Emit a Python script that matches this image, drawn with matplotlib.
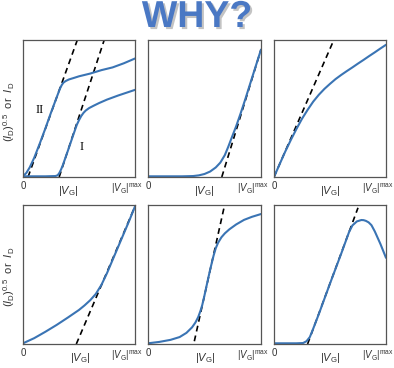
import matplotlib as mpl

mpl.use('Agg')

import matplotlib.pyplot as plt
import matplotlib.patheffects as pe

plt.rcParams['font.family'] = ['Liberation Sans', 'DejaVu Sans']
plt.rcParams['mathtext.fontset'] = 'custom'
plt.rcParams['mathtext.rm'] = 'Liberation Sans'
plt.rcParams['mathtext.it'] = 'Liberation Sans:italic'

# data (x = |VG|/|VG|max, y = normalised current)
# top row
p1_x_II = [0.00, 0.03, 0.06, 0.10, 0.15, 0.20, 0.25, 0.30, 0.33, 0.345, 0.36, 0.38, 0.41, 0.45, 0.50, 0.60, 0.70, 0.80, 0.90, 1.00]
p1_y_II = [0.005, 0.03, 0.07, 0.14, 0.245, 0.355, 0.47, 0.58, 0.645, 0.67, 0.688, 0.70, 0.712, 0.722, 0.735, 0.755, 0.78, 0.80, 0.83, 0.865]
p1_x_I = [0.00, 0.20, 0.29, 0.31, 0.325, 0.34, 0.355, 0.37, 0.40, 0.45, 0.48, 0.50, 0.52, 0.54, 0.56, 0.59, 0.63, 0.68, 0.75, 0.85, 1.00]
p1_y_I = [0.005, 0.005, 0.007, 0.013, 0.03, 0.055, 0.085, 0.12, 0.19, 0.31, 0.38, 0.415, 0.445, 0.468, 0.485, 0.503, 0.52, 0.54, 0.565, 0.595, 0.636]
p1_fit_II = [(0.045, 0.0), (0.485, 1.0)]
p1_fit_I = [(0.323, 0.0), (0.725, 1.0)]

p2_x = [0.00, 0.30, 0.40, 0.45, 0.50, 0.55, 0.60, 0.64, 0.68, 0.71, 0.74, 0.78, 0.82, 0.86, 0.90, 0.95, 1.00]
p2_y = [0.005, 0.005, 0.007, 0.012, 0.022, 0.04, 0.07, 0.105, 0.16, 0.22, 0.285, 0.37, 0.465, 0.565, 0.67, 0.80, 0.93]
p2_fit = [(0.653, 0.0), (1.0, 0.93)]

p3_x = [0.00, 0.05, 0.10, 0.15, 0.20, 0.25, 0.30, 0.35, 0.40, 0.45, 0.50, 0.55, 0.60, 0.65, 0.70, 0.75, 0.80, 0.85, 0.90, 0.95, 1.00]
p3_y = [0.00, 0.093, 0.185, 0.27, 0.35, 0.425, 0.49, 0.55, 0.60, 0.643, 0.68, 0.715, 0.745, 0.773, 0.80, 0.828, 0.855, 0.883, 0.91, 0.938, 0.965]
p3_fit = [(0.0, 0.0), (0.534, 1.0)]

# bottom row
p4_x = [0.00, 0.10, 0.20, 0.30, 0.40, 0.50, 0.55, 0.60, 0.65, 0.70, 0.75, 0.80, 0.85, 0.90, 0.95, 1.00]
p4_y = [0.005, 0.042, 0.088, 0.137, 0.19, 0.245, 0.278, 0.315, 0.36, 0.425, 0.51, 0.605, 0.70, 0.795, 0.89, 0.99]
p4_fit = [(0.476, 0.0), (1.0, 0.99)]

p5_x = [0.00, 0.10, 0.20, 0.28, 0.34, 0.39, 0.42, 0.445, 0.465, 0.48, 0.50, 0.52, 0.55, 0.58, 0.60, 0.62, 0.65, 0.68, 0.72, 0.78, 0.85, 0.92, 1.00]
p5_y = [0.005, 0.015, 0.03, 0.05, 0.08, 0.12, 0.155, 0.195, 0.24, 0.28, 0.35, 0.425, 0.535, 0.635, 0.69, 0.728, 0.768, 0.796, 0.825, 0.86, 0.893, 0.915, 0.935]
p5_fit = [(0.41, 0.02), (0.678, 1.0)]

p6_x = [0.00, 0.20, 0.26, 0.29, 0.32, 0.35, 0.40, 0.50, 0.60, 0.67, 0.70, 0.74, 0.78, 0.80, 0.82, 0.845, 0.87, 0.90, 0.95, 1.00]
p6_y = [0.005, 0.005, 0.007, 0.02, 0.05, 0.11, 0.215, 0.435, 0.65, 0.805, 0.853, 0.882, 0.892, 0.891, 0.886, 0.875, 0.855, 0.81, 0.72, 0.62]
p6_fit = [(0.30, 0.0), (0.75, 0.98)]

# where the middle |VG| label sits in each panel
mid_label = [0.40, 0.50, 0.50, 0.515, 0.51, 0.50]

blue = '#3a74b4'
W, H = 394, 368

fig = plt.figure(figsize=(3.94, 3.68), dpi=100)

lefts = [23, 148, 274]
widths = [112, 113, 112]
rows = [(40, 177), (205, 344)]

axes = []
for top, bot in rows:
    for l, w in zip(lefts, widths):
        ax = fig.add_axes([l / W, 1 - bot / H, w / W, (bot - top) / H])
        axes.append(ax)

panels = [
    [(p1_x_II, p1_y_II), (p1_x_I, p1_y_I)],
    [(p2_x, p2_y)],
    [(p3_x, p3_y)],
    [(p4_x, p4_y)],
    [(p5_x, p5_y)],
    [(p6_x, p6_y)],
]
fits = [[p1_fit_II, p1_fit_I], [p2_fit], [p3_fit], [p4_fit], [p5_fit], [p6_fit]]

for i, ax in enumerate(axes):
    for f in fits[i]:
        (x0, y0), (x1, y1) = f
        ax.plot([x0, x1], [y0, y1], color='black', lw=1.2, ls=(0, (3.5, 2.5)))
    for xs, ys in panels[i]:
        ax.plot(xs, ys, color=blue, lw=1.5, solid_capstyle='round', solid_joinstyle='round')
    ax.set_xlim(0, 1)
    ax.set_ylim(0, 1)
    ax.set_yticks([])
    ax.set_xticks([0, 0.93])
    ax.set_xticklabels(['0', r'$|V_{\rm G}|^{\rm max}$'], fontsize=7, color='#333333')
    ax.tick_params(axis='x', length=0, pad=3)
    for s in ax.spines.values():
        s.set_color('#555555')
        s.set_linewidth(0.9)
    ax.text(mid_label[i], -0.1, r'$|V_{\rm G}|$', transform=ax.transAxes,
            ha='center', va='center', fontsize=8, color='#333333')

# roman numerals in the first panel
axes[0].text(0.15, 0.49, 'II', fontsize=9, family='Liberation Serif', ha='center', va='center')
axes[0].text(0.52, 0.22, 'I', fontsize=9, family='Liberation Serif', ha='center', va='center')

ylab = r'$(I_{\rm D})^{0.5}$  or  $I_{\rm D}$'
fig.text(9 / W, 1 - 112 / H, ylab, rotation=90, ha='center', va='center', fontsize=8, color='#333333')
fig.text(9 / W, 1 - 277 / H, ylab, rotation=90, ha='center', va='center', fontsize=8, color='#333333')

fig.text(0.5, 1 - 17 / H, 'WHY?', ha='center', va='center', fontsize=27,
         fontweight='bold', color='#4a78c4',
         path_effects=[pe.withSimplePatchShadow(offset=(1.5, -1.5), shadow_rgbFace='#888888', alpha=0.5)])

fig.savefig('out.png', dpi=100)
